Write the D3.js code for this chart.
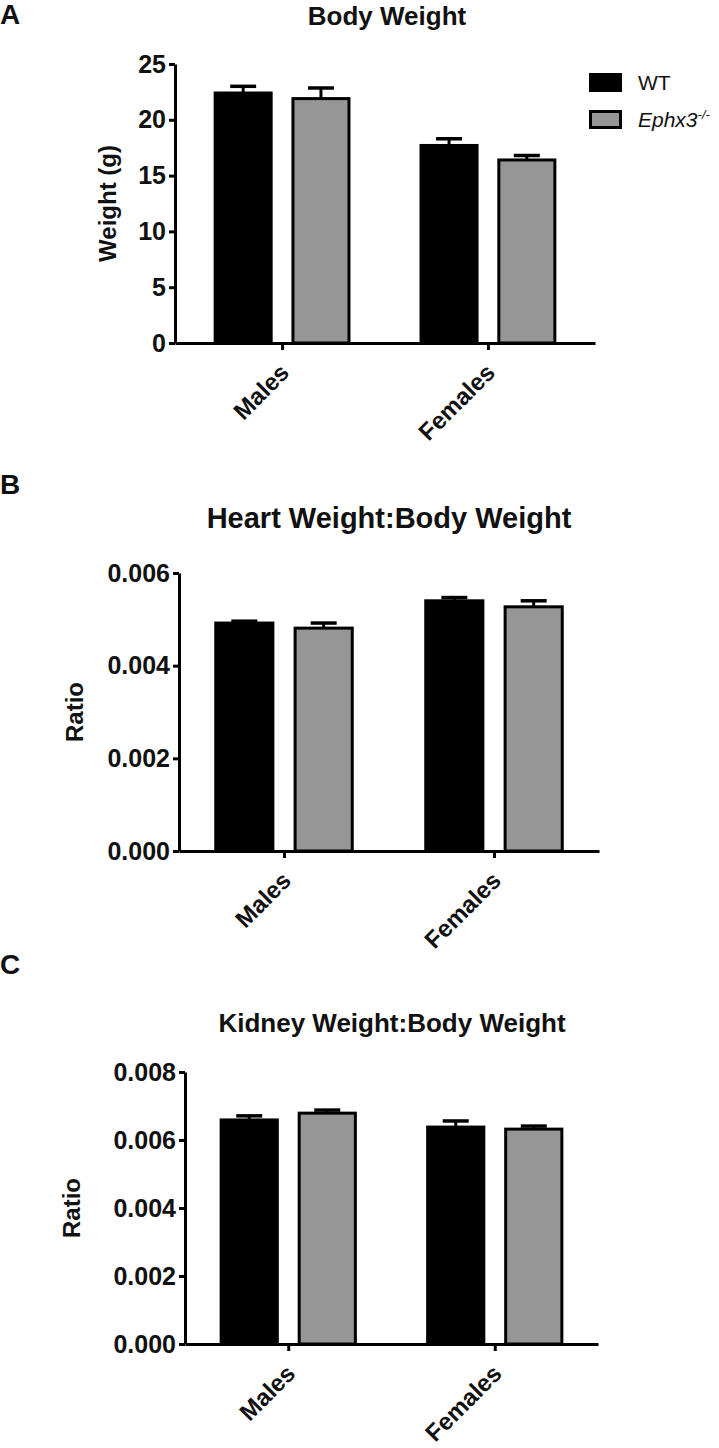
<!DOCTYPE html>
<html>
<head>
<meta charset="utf-8">
<script src="https://cdn.jsdelivr.net/npm/d3@7"></script>
<style>
  body { margin: 0; background: #fff; }
  text { font-family: "Liberation Sans", Arial, sans-serif; fill: #111; }
</style>
</head>
<body>
<svg id="fig" width="719" height="1448"></svg>
<script>
// categories and series
var groups = ["Males", "Females"];
var series = ["WT", "Ephx3"];
var seriesColors = ["#000000", "#969696"];

// A - body weight (g), mean and SEM
var bodyWT = [22.4, 17.7];
var bodyWTsem = [0.6, 0.6];
var bodyKO = [21.9, 16.4];
var bodyKOsem = [0.95, 0.4];
var bodyTicks = [0, 5, 10, 15, 20, 25];

// B - heart weight : body weight
var heartWT = [0.00492, 0.0054];
var heartWTsem = [0.00004, 0.00007];
var heartKO = [0.00481, 0.00527];
var heartKOsem = [0.00011, 0.00013];
var heartTicks = [0, 0.002, 0.004, 0.006];

// C - kidney weight : body weight
var kidneyWT = [0.00659, 0.00638];
var kidneyWTsem = [0.00012, 0.00018];
var kidneyKO = [0.00679, 0.00632];
var kidneyKOsem = [0.00009, 0.00009];
var kidneyTicks = [0, 0.002, 0.004, 0.006, 0.008];

var svg = d3.select("#fig");

// draws one bar panel
function drawPanel(p) {
  var g = svg.append("g");

  var x = d3.scalePoint().domain(groups).range([p.x0, p.x1]).padding(p.pad);
  var half = x.step() * 0.325;
  var xs = d3.scaleBand().domain(series).range([-half, half]).paddingInner(0.28);
  var y = d3.scaleLinear().domain([0, p.max]).range([p.yBottom, p.yTop]);

  var rows = [];
  groups.forEach(function(gr, i) {
    series.forEach(function(s, j) {
      rows.push({group: gr, s: s, color: seriesColors[j],
                 mean: p.means[j][i], sem: p.sems[j][i]});
    });
  });

  // error bars (upper only)
  var eb = g.selectAll(".err").data(rows).enter().append("g")
    .attr("transform", function(d) {
      return "translate(" + (x(d.group) + xs(d.s) + xs.bandwidth() / 2) + ",0)";
    });
  eb.append("line")
    .attr("y1", function(d) { return y(d.mean); })
    .attr("y2", function(d) { return y(d.mean + d.sem); })
    .attr("stroke", "#000").attr("stroke-width", 3);
  eb.append("line")
    .attr("x1", -13).attr("x2", 13)
    .attr("y1", function(d) { return y(d.mean + d.sem); })
    .attr("y2", function(d) { return y(d.mean + d.sem); })
    .attr("stroke", "#000").attr("stroke-width", 3.5);

  // bars
  g.selectAll(".bar").data(rows).enter().append("rect")
    .attr("x", function(d) { return x(d.group) + xs(d.s); })
    .attr("width", xs.bandwidth())
    .attr("y", function(d) { return y(d.mean); })
    .attr("height", function(d) { return y(0) - y(d.mean); })
    .attr("fill", function(d) { return d.color; })
    .attr("stroke", "#000").attr("stroke-width", 3);

  // y axis
  var ya = g.append("g")
    .attr("transform", "translate(" + p.x0 + ",0)")
    .call(d3.axisLeft(y).tickValues(p.ticks).tickFormat(p.fmt).tickSize(6).tickSizeOuter(0).tickPadding(3));
  ya.select(".domain").attr("stroke-width", 3);
  ya.selectAll(".tick line").attr("stroke-width", 3);
  ya.selectAll(".tick text")
    .style("font-family", "Liberation Sans, Arial, sans-serif")
    .style("font-size", "25px").style("font-weight", "bold").attr("fill", "#111");

  // x axis
  var xa = g.append("g")
    .attr("transform", "translate(0," + p.yBottom + ")")
    .call(d3.axisBottom(x).tickSize(7).tickSizeOuter(0));
  xa.select(".domain").attr("stroke-width", 3);
  xa.selectAll(".tick line").attr("stroke-width", 3);
  xa.selectAll(".tick text")
    .attr("x", 0).attr("y", 0).attr("dy", 0)
    .attr("text-anchor", "end")
    .attr("transform", "translate(8,31) rotate(-45)")
    .style("font-family", "Liberation Sans, Arial, sans-serif")
    .style("font-size", "24px").style("font-weight", "bold").attr("fill", "#111");

  // y label
  g.append("text")
    .attr("transform", "translate(" + p.ylabX + "," + (p.yTop + p.yBottom) / 2 + ") rotate(-90)")
    .attr("text-anchor", "middle")
    .style("font-size", "24px").style("font-weight", "bold")
    .text(p.ylab);

  // title
  g.append("text")
    .attr("x", p.titleX).attr("y", p.titleY)
    .attr("text-anchor", "middle")
    .style("font-size", p.titleSize + "px").style("font-weight", "bold")
    .text(p.title);

  // panel letter
  g.append("text")
    .attr("x", 0).attr("y", p.letterY)
    .style("font-size", "28px").style("font-weight", "bold")
    .text(p.letter);
}

drawPanel({
  letter: "A", letterY: 24,
  title: "Body Weight", titleX: 387, titleY: 25, titleSize: 26,
  ylab: "Weight (g)", ylabX: 116,
  means: [bodyWT, bodyKO], sems: [bodyWTsem, bodyKOsem],
  max: 25, ticks: bodyTicks, fmt: d3.format("d"),
  x0: 175, x1: 595, pad: 0.52, yTop: 64, yBottom: 343
});

drawPanel({
  letter: "B", letterY: 494,
  title: "Heart Weight:Body Weight", titleX: 389, titleY: 528, titleSize: 29,
  ylab: "Ratio", ylabX: 83,
  means: [heartWT, heartKO], sems: [heartWTsem, heartKOsem],
  max: 0.006, ticks: heartTicks, fmt: d3.format(".3f"),
  x0: 179, x1: 599, pad: 0.5, yTop: 573, yBottom: 851
});

drawPanel({
  letter: "C", letterY: 974,
  title: "Kidney Weight:Body Weight", titleX: 392, titleY: 1032, titleSize: 26,
  ylab: "Ratio", ylabX: 80,
  means: [kidneyWT, kidneyKO], sems: [kidneyWTsem, kidneyKOsem],
  max: 0.008, ticks: kidneyTicks, fmt: d3.format(".3f"),
  x0: 185, x1: 598, pad: 0.5, yTop: 1072, yBottom: 1344
});

// legend (panel A)
var legend = svg.append("g").attr("transform", "translate(589,73)");
series.forEach(function(s, i) {
  var row = legend.append("g").attr("transform", "translate(0," + (i * 37) + ")");
  row.append("rect")
    .attr("x", 1.5).attr("y", 1.5).attr("width", 30).attr("height", 16)
    .attr("fill", seriesColors[i]).attr("stroke", "#000").attr("stroke-width", 3);
  var t = row.append("text")
    .attr("x", 49).attr("y", 17)
    .style("font-size", "21px");
  if (i === 0) {
    t.text(s);
  } else {
    t.append("tspan").style("font-style", "italic").text(s);
    t.append("tspan").style("font-style", "italic").style("font-size", "13px")
      .attr("dy", -8).text("-/-");
  }
});
</script>
</body>
</html>
